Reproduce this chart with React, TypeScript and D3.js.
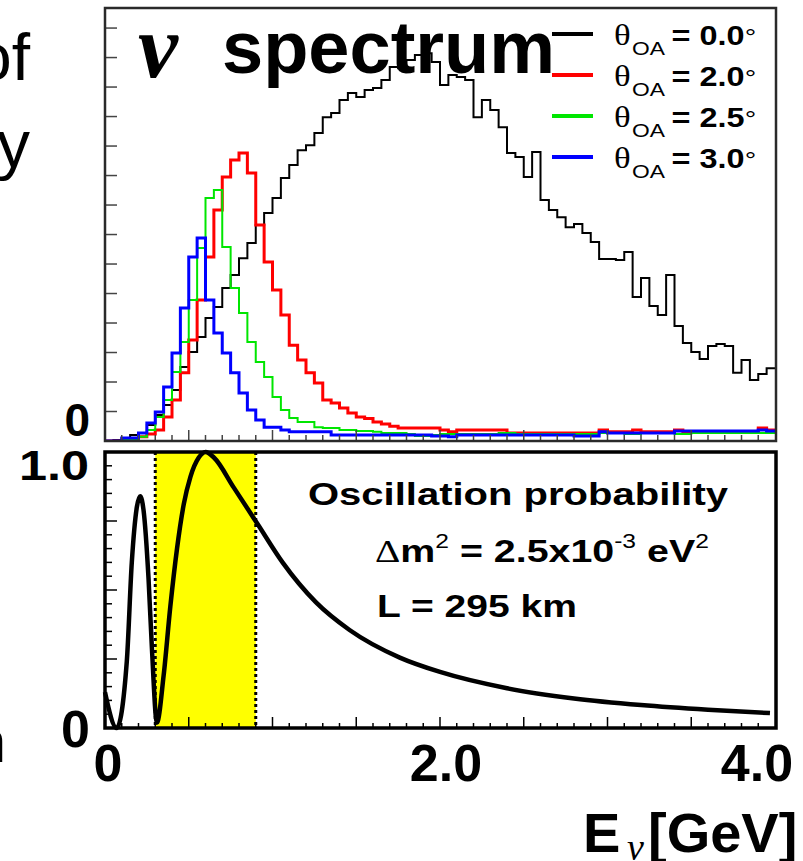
import React, { useEffect, useRef } from 'react';
import * as d3 from 'd3';

// neutrino energy spectra, 80 bins of 0.05 GeV from 0 to 4 GeV (arbitrary units)
const binWidth = 0.05;

const theta00 = [
    0, 3, 10, 20, 27, 54, 88, 122, 173, 251,
    302, 353, 417, 454, 519, 563, 620, 671, 732, 773,
    824, 892, 936, 986, 1003, 1044, 1098, 1112, 1156, 1180,
    1166, 1190, 1197, 1224, 1268, 1264, 1292, 1309, 1315, 1285,
    1207, 1241, 1234, 1224, 1098, 1156, 1122, 1064, 976, 963,
    895, 980, 817, 783, 759, 725, 736, 705, 675, 617,
    617, 614, 641, 488, 553, 458, 427, 563, 390, 332,
    302, 278, 322, 329, 322, 231, 275, 207, 227, 247
];
const theta20 = [
    0, 0, 3, 7, 14, 24, 37, 81, 139, 231,
    342, 478, 624, 783, 895, 953, 976, 909, 732, 607,
    512, 427, 325, 275, 231, 197, 139, 129, 112, 95,
    81, 76, 64, 58, 50, 44, 44, 44, 44, 44,
    37, 31, 37, 37, 37, 37, 37, 37, 27, 27,
    27, 27, 27, 27, 27, 27, 27, 27, 27, 37,
    31, 31, 31, 37, 31, 31, 31, 31, 37, 31,
    31, 31, 31, 31, 31, 31, 31, 31, 44, 37
];
const theta25 = [
    0, 0, 3, 7, 14, 37, 81, 139, 234, 336,
    478, 654, 824, 851, 658, 519, 434, 336, 268, 217,
    149, 105, 78, 64, 64, 47, 44, 44, 37, 37,
    34, 34, 31, 27, 27, 27, 24, 17, 17, 20,
    24, 24, 24, 24, 24, 24, 24, 27, 27, 24,
    24, 24, 24, 24, 24, 24, 24, 24, 24, 27,
    27, 27, 24, 24, 27, 27, 27, 27, 24, 24,
    27, 27, 27, 27, 27, 27, 27, 27, 27, 27
];
const theta30 = [
    0, 0, 10, 10, 27, 61, 98, 183, 298, 451,
    624, 688, 478, 366, 298, 231, 163, 105, 71, 47,
    47, 37, 31, 31, 31, 31, 31, 20, 20, 20,
    20, 20, 20, 20, 20, 20, 20, 20, 20, 17,
    17, 14, 20, 20, 20, 20, 20, 20, 20, 20,
    20, 20, 20, 20, 20, 20, 17, 17, 17, 31,
    27, 27, 27, 27, 27, 27, 27, 27, 34, 34,
    34, 34, 34, 34, 34, 34, 34, 34, 37, 34
];

const legendAngles = ['0.0', '2.0', '2.5', '3.0'];
const seriesColors = ['#000000', '#ff0000', '#00e600', '#0000ff'];

// oscillation probability
const probEnergy = [0, 0.07, 0.13, 0.16, 0.19, 0.21, 0.23, 0.26, 0.28, 0.31,
    0.35, 0.39, 0.43, 0.47, 0.51, 0.56, 0.6, 0.65, 0.77, 0.91,
    1.06, 1.26, 1.46, 1.76, 2.0, 2.4, 2.8, 3.2, 3.6, 3.97];
const probValue = [0.13, 0, 0.24, 0.6, 0.8, 0.84, 0.79, 0.54, 0.29, 0.02,
    0.19, 0.44, 0.65, 0.81, 0.91, 0.98, 1.0, 0.98, 0.87, 0.74,
    0.6, 0.455, 0.355, 0.255, 0.203, 0.144, 0.107, 0.083, 0.066, 0.054];

const bandRange = [0.3, 0.9];

function App() {
    const ref = useRef(null);

    useEffect(() => {
        drawChart();
    });

    function drawChart() {
        const svg = d3.select(ref.current);
        svg.selectAll('*').remove();

        const left = 105, right = 776;
        const topY0 = 8, topY1 = 441;
        const botY0 = 452, botY1 = 728;
        const sans = 'Liberation Sans, Arial, sans-serif';
        const serif = 'Liberation Serif, Times New Roman, serif';

        const x = d3.scaleLinear().domain([0, 4]).range([left, 775]);
        const yTop = d3.scaleLinear().domain([0, 1468]).range([topY1, topY0]);
        const yBot = d3.scaleLinear().domain([0, 1]).range([botY1, botY0]);

        // left-over slide text
        svg.append('text').attr('x', 30).attr('y', 80).attr('text-anchor', 'end')
            .style('font-family', sans).style('font-size', '66px').text('of');
        svg.append('text').attr('x', 30).attr('y', 167).attr('text-anchor', 'end')
            .style('font-family', sans).style('font-size', '66px').text('y');
        svg.append('text').attr('x', 6).attr('y', 762).attr('text-anchor', 'end')
            .style('font-family', sans).style('font-size', '60px').text('n');

        // ---------- top panel: spectra ----------
        svg.append('defs').append('clipPath').attr('id', 'clip-top')
            .append('rect').attr('x', left).attr('y', topY0)
            .attr('width', right - left).attr('height', topY1 - topY0);

        const hist = d3.line()
            .x((d, i) => x(i * binWidth))
            .y(d => yTop(d))
            .curve(d3.curveStepAfter);

        const series = [theta00, theta20, theta25, theta30];
        const widths = [2, 3, 2, 3];
        const gHist = svg.append('g').attr('clip-path', 'url(#clip-top)');
        series.forEach((vals, k) => {
            gHist.append('path')
                .attr('d', hist(vals.concat([vals[vals.length - 1]])))
                .style('fill', 'none')
                .style('stroke', seriesColors[k])
                .style('stroke-width', widths[k]);
        });

        // y ticks (left, inside)
        d3.range(100, 1468, 100).forEach(v => {
            svg.append('line').attr('x1', left).attr('x2', left + 12)
                .attr('y1', yTop(v)).attr('y2', yTop(v))
                .style('stroke', '#444').style('stroke-width', 1.5);
        });
        // x ticks (bottom, inside)
        d3.range(1, 40).forEach(i => {
            const len = i % 5 === 0 ? 11 : 6;
            svg.append('line').attr('x1', x(i / 10)).attr('x2', x(i / 10))
                .attr('y1', topY1).attr('y2', topY1 - len)
                .style('stroke', '#444').style('stroke-width', 1.5);
        });

        svg.append('rect').attr('x', left).attr('y', topY0)
            .attr('width', right - left).attr('height', topY1 - topY0)
            .style('fill', 'none').style('stroke', '#2a2a2a').style('stroke-width', 2.5);

        // title
        svg.append('text').attr('x', 138).attr('y', 77)
            .style('font-family', serif).style('font-style', 'italic').style('font-weight', 'bold')
            .style('font-size', '90px')
            .text('ν');
        svg.append('text').attr('x', 222).attr('y', 73)
            .style('font-family', sans).style('font-weight', 'bold').style('font-size', '74px')
            .text('spectrum');

        // legend
        legendAngles.forEach((a, i) => {
            const rowY = 45 + 41 * i;
            svg.append('line').attr('x1', 552).attr('x2', 593)
                .attr('y1', rowY - 11).attr('y2', rowY - 11)
                .style('stroke', seriesColors[i]).style('stroke-width', 4);
            const g = svg.append('g').attr('transform', `translate(614, ${rowY}) scale(1.2, 1)`);
            g.append('text').attr('x', 0).attr('y', 0)
                .style('font-family', serif).style('font-size', '29px').text('θ');
            g.append('text').attr('x', 15).attr('y', 10)
                .style('font-family', sans).style('font-size', '19px').text('OA');
            g.append('text').attr('x', 48).attr('y', 0)
                .style('font-family', sans).style('font-weight', 'bold').style('font-size', '27px')
                .text('= ' + a);
            g.append('text').attr('x', 109).attr('y', 0)
                .style('font-family', sans).style('font-size', '24px').text('°');
        });

        svg.append('text').attr('x', 90).attr('y', 436).attr('text-anchor', 'end')
            .style('font-family', sans).style('font-weight', 'bold').style('font-size', '46px')
            .text('0');

        // ---------- bottom panel: oscillation probability ----------
        svg.append('rect').attr('x', x(bandRange[0])).attr('y', botY0)
            .attr('width', x(bandRange[1]) - x(bandRange[0])).attr('height', botY1 - botY0)
            .style('fill', '#ffff00');

        bandRange.forEach(e => {
            svg.append('line').attr('x1', x(e)).attr('x2', x(e))
                .attr('y1', botY0).attr('y2', botY1)
                .style('stroke', '#000').style('stroke-width', 3)
                .style('stroke-dasharray', '3 3');
        });

        const pts = probEnergy.map((e, i) => [e, probValue[i]]);
        const curve = d3.line()
            .x(d => x(d[0]))
            .y(d => yBot(d[1]))
            .curve(d3.curveMonotoneX);
        svg.append('path').attr('d', curve(pts))
            .style('fill', 'none').style('stroke', '#000').style('stroke-width', 4.5);

        d3.range(1, 20).forEach(i => {
            const len = i % 5 === 0 ? 12 : 7;
            svg.append('line').attr('x1', left).attr('x2', left + len)
                .attr('y1', yBot(i / 20)).attr('y2', yBot(i / 20))
                .style('stroke', '#000').style('stroke-width', 1.5);
        });
        d3.range(1, 40).forEach(i => {
            const len = i % 5 === 0 ? 11 : 5;
            svg.append('line').attr('x1', x(i / 10)).attr('x2', x(i / 10))
                .attr('y1', botY1).attr('y2', botY1 - len)
                .style('stroke', '#000').style('stroke-width', 1.5);
        });

        svg.append('rect').attr('x', left).attr('y', botY0)
            .attr('width', right - left).attr('height', botY1 - botY0)
            .style('fill', 'none').style('stroke', '#000').style('stroke-width', 3.5);

        // annotation
        const t1 = svg.append('g').attr('transform', 'translate(308, 505) scale(1.25, 1)');
        t1.append('text').style('font-family', sans).style('font-weight', 'bold').style('font-size', '32px')
            .text('Oscillation probability');

        const t2 = svg.append('g').attr('transform', 'translate(375, 562) scale(1.23, 1)')
            .append('text').style('font-family', sans).style('font-weight', 'bold').style('font-size', '32px');
        t2.append('tspan').style('font-family', serif).style('font-weight', 'normal').text('Δ');
        t2.append('tspan').text('m');
        t2.append('tspan').attr('dy', -14).style('font-size', '20px').style('font-weight', 'normal').text('2');
        t2.append('tspan').attr('dy', 14).text(' = 2.5x10');
        t2.append('tspan').attr('dy', -14).style('font-size', '20px').style('font-weight', 'normal').text('-3');
        t2.append('tspan').attr('dy', 14).text(' eV');
        t2.append('tspan').attr('dy', -14).style('font-size', '20px').style('font-weight', 'normal').text('2');

        const t3 = svg.append('g').attr('transform', 'translate(377, 617) scale(1.22, 1)');
        t3.append('text').style('font-family', sans).style('font-weight', 'bold').style('font-size', '32px')
            .text('L = 295 km');

        // axis labels
        svg.append('text').attr('x', 89).attr('y', yBot(1) + 28).attr('text-anchor', 'end')
            .attr('transform', `translate(89, 0) scale(1.2, 1) translate(-89, 0)`)
            .style('font-family', sans).style('font-weight', 'bold').style('font-size', '42px')
            .text('1.0');
        svg.append('text').attr('x', 90).attr('y', yBot(0) + 19).attr('text-anchor', 'end')
            .style('font-family', sans).style('font-weight', 'bold').style('font-size', '52px')
            .text('0');

        const xLabels = [[0, '0'], [2, '2.0'], [4, '4.0']];
        xLabels.forEach(([v, s], i) => {
            const shift = i === 0 ? 3 : i === 1 ? 6 : -18;
            svg.append('text').attr('x', x(v) + shift).attr('y', 781).attr('text-anchor', 'middle')
                .style('font-family', sans).style('font-weight', 'bold').style('font-size', '52px')
                .text(s);
        });

        svg.append('text').attr('x', 583).attr('y', 852)
            .style('font-family', sans).style('font-weight', 'bold').style('font-size', '56px')
            .text('E');
        svg.append('text').attr('x', 627).attr('y', 860)
            .style('font-family', serif).style('font-style', 'italic').style('font-size', '38px')
            .text('ν');
        svg.append('text').attr('x', 648).attr('y', 852)
            .style('font-family', sans).style('font-weight', 'bold').style('font-size', '56px')
            .text('[GeV]');
    }

    return (
        <svg ref={ref} width={803} height={861}
            style={{ position: 'absolute', left: 0, top: 0, background: '#ffffff' }} />
    );
}

export default App;
